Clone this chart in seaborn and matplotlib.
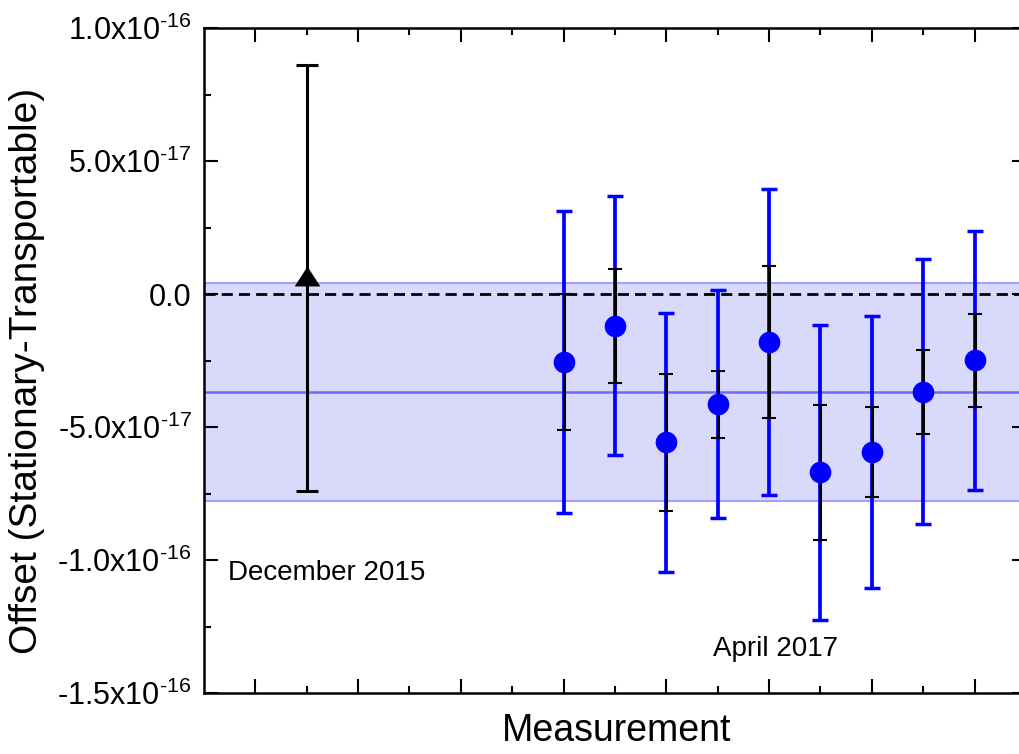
import numpy as np
import pandas as pd
import matplotlib
matplotlib.use("Agg")
import matplotlib.pyplot as plt
from matplotlib.markers import MarkerStyle
from matplotlib.ticker import FixedLocator, FixedFormatter, MultipleLocator
import seaborn as sns

# ---- data -------------------------------------------------------------
# December 2015 comparison
dec_measurement = [2]
dec_offset = [0.6e-17]
dec_err = [8.0e-17]

# April 2017 campaign
apr_measurement = [7, 8, 9, 10, 11, 12, 13, 14, 15]
apr_offset = np.array([-2.56, -1.19, -5.58, -4.14, -1.80, -6.70, -5.94, -3.67, -2.49]) * 1e-17
apr_total_err = np.array([5.67, 4.88, 4.88, 4.29, 5.74, 5.54, 5.12, 4.97, 4.87]) * 1e-17
apr_stat_err = np.array([2.55, 2.14, 2.59, 1.26, 2.85, 2.54, 1.70, 1.58, 1.75]) * 1e-17

# weighted mean of the April 2017 points and its uncertainty
mean_offset = -3.7e-17
mean_unc = 4.1e-17

yticks = [1.0e-16, 5.0e-17, 0.0, -5.0e-17, -1.0e-16, -1.5e-16]
ytick_labels = [r"1.0x10$^{\text{-16}}$", r"5.0x10$^{\text{-17}}$", "0.0",
                r"-5.0x10$^{\text{-17}}$", r"-1.0x10$^{\text{-16}}$", r"-1.5x10$^{\text{-16}}$"]
x_major = [1, 3, 5, 7, 9, 11, 13, 15]
x_minor = [2, 4, 6, 8, 10, 12, 14]

# ---- style ------------------------------------------------------------
sns.set_theme(style="ticks")
plt.rcParams["font.family"] = ["Liberation Sans", "DejaVu Sans"]
plt.rcParams["mathtext.fontset"] = "custom"
plt.rcParams["mathtext.rm"] = "Liberation Sans"
plt.rcParams["mathtext.it"] = "Liberation Sans:italic"
plt.rcParams["mathtext.bf"] = "Liberation Sans:bold"
plt.rcParams["axes.unicode_minus"] = False

apr_df = pd.DataFrame({"measurement": apr_measurement, "offset": apr_offset})
dec_df = pd.DataFrame({"measurement": dec_measurement, "offset": dec_offset})

fig = plt.figure(figsize=(10.2, 7.54), dpi=100)
ax = fig.add_axes([204 / 1020, 61 / 754, 822 / 1020, 665 / 754])
ax.set_xlim(0, 16)
ax.set_ylim(-1.5e-16, 1.0e-16)

# mean band
band_fill = (0.85, 0.85, 0.99)
band_edge = (0.63, 0.63, 1.0)
ax.axhspan(mean_offset - mean_unc, mean_offset + mean_unc, color=band_fill, lw=0, zorder=0)
ax.axhline(mean_offset + mean_unc, color=band_edge, lw=1.5, zorder=1)
ax.axhline(mean_offset - mean_unc, color=band_edge, lw=1.5, zorder=1)
ax.axhline(mean_offset, color=(0.42, 0.42, 1.0), lw=1.8, zorder=1)

# zero line
ax.axhline(0.0, color="black", lw=2.0, ls=(0, (4, 2.2)), zorder=2)

# December 2015 point
ax.errorbar(dec_measurement, dec_offset, yerr=dec_err, fmt="none", ecolor="black",
            elinewidth=2.2, capsize=7.6, capthick=2.2, zorder=3)
tri = MarkerStyle([(-1, -0.62), (1, -0.62), (0, 0.93)])
sns.scatterplot(data=dec_df, x="measurement", y="offset", marker=tri, s=340,
                color="black", edgecolor="black", linewidth=0, ax=ax, zorder=5, legend=False)

# April 2017 points: total and statistical uncertainty
ax.errorbar(apr_measurement, apr_offset, yerr=apr_total_err, fmt="none", ecolor="#0000ff",
            elinewidth=2.7, capsize=5.8, capthick=2.5, zorder=3)
ax.errorbar(apr_measurement, apr_offset, yerr=apr_stat_err, fmt="none", ecolor="black",
            elinewidth=2.2, capsize=5.3, capthick=1.5, zorder=4)
sns.scatterplot(data=apr_df, x="measurement", y="offset", marker="o", s=243,
                color="#0000ff", edgecolor="#0000ff", linewidth=0, ax=ax, zorder=5, legend=False)

# annotations
ax.text(0.47, -10.5e-17, "December 2015", fontsize=20, ha="left", va="center", color="black")
ax.text(9.9, -13.35e-17, "April 2017", fontsize=20, ha="left", va="center", color="black")

# axes and ticks
for side in ["left", "right", "top", "bottom"]:
    ax.spines[side].set_visible(True)
    ax.spines[side].set_linewidth(1.8)
    ax.spines[side].set_color("black")

ax.yaxis.set_major_locator(FixedLocator(yticks))
ax.yaxis.set_major_formatter(FixedFormatter(ytick_labels))
ax.yaxis.set_minor_locator(MultipleLocator(2.5e-17))
ax.xaxis.set_major_locator(FixedLocator(x_major))
ax.xaxis.set_minor_locator(FixedLocator(x_minor))
ax.xaxis.set_major_formatter(FixedFormatter([""] * len(x_major)))

ax.tick_params(which="both", direction="in", top=True, right=True, color="black", width=1.5)
ax.tick_params(which="major", length=10)
ax.tick_params(which="minor", length=5)
ax.tick_params(axis="y", which="major", labelsize=22, pad=9, labelcolor="black")

ax.set_xlabel("Measurement", fontsize=27, color="black")
ax.set_ylabel("Offset (Stationary-Transportable)", fontsize=28, color="black")
ax.xaxis.set_label_coords(0.502, -0.03)
ax.yaxis.set_label_coords(-0.193, 0.484)
ax.set_facecolor("white")
fig.patch.set_facecolor("white")

fig.savefig("out.png", dpi=100)
